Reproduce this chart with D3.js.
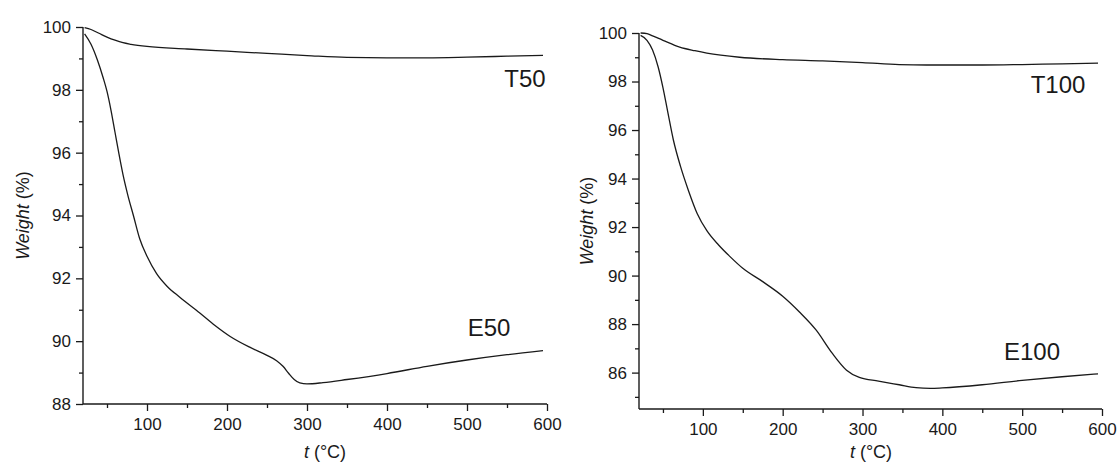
<!DOCTYPE html>
<html>
<head>
<meta charset="utf-8">
<script src="https://cdn.jsdelivr.net/npm/d3@7"></script>
<style>
  html, body { margin: 0; padding: 0; background: #fff; }
  svg { display: block; font-family: "Liberation Sans", Arial, sans-serif; }
</style>
</head>
<body>
<svg id="chart" width="1120" height="465"></svg>
<script>
// Temperature (°C) vs weight (%)
const t50 = [[22, 99.98], [30, 99.92], [40, 99.8], [50, 99.68], [60, 99.58], [70, 99.5], [80, 99.45],
  [100, 99.38], [150, 99.3], [200, 99.23], [250, 99.16], [300, 99.09], [350, 99.03], [400, 99.02],
  [450, 99.02], [500, 99.04], [550, 99.07], [595, 99.1]];

const e50 = [[22, 99.78], [30, 99.45], [38, 98.95], [45, 98.4], [50, 97.95], [55, 97.35], [60, 96.65],
  [65, 95.95], [70, 95.3], [76, 94.65], [83, 94.0], [91, 93.25], [100, 92.7], [112, 92.15],
  [125, 91.75], [141, 91.4], [166, 90.9], [185, 90.5], [204, 90.15], [229, 89.8], [250, 89.55],
  [262, 89.38], [270, 89.2], [277, 88.98], [284, 88.78], [291, 88.67], [300, 88.64], [320, 88.68],
  [350, 88.78], [400, 88.97], [450, 89.2], [500, 89.4], [550, 89.57], [595, 89.7]];

const t100 = [[22, 100], [30, 99.97], [37, 99.88], [50, 99.7], [71, 99.42], [90, 99.27], [105, 99.17],
  [146, 99.0], [200, 98.9], [250, 98.85], [300, 98.78], [346, 98.7], [380, 98.68], [450, 98.68],
  [500, 98.7], [550, 98.73], [595, 98.76]];

const e100 = [[22, 99.9], [30, 99.7], [37, 99.3], [44, 98.6], [50, 97.75], [56, 96.75], [63, 95.6],
  [72, 94.5], [82, 93.5], [93, 92.55], [105, 91.85], [120, 91.25], [135, 90.75], [150, 90.3],
  [175, 89.75], [200, 89.15], [221, 88.5], [242, 87.75], [262, 86.8], [280, 86.1], [296, 85.8],
  [320, 85.65], [346, 85.5], [367, 85.38], [385, 85.35], [400, 85.37], [450, 85.5], [500, 85.68],
  [550, 85.83], [595, 85.95]];

// tick values
const xMajor = [100, 200, 300, 400, 500, 600];
const xMinor = [50, 150, 250, 350, 450, 550];
const yMajorLeft = [88, 90, 92, 94, 96, 98, 100];
const yMinorLeft = [89, 91, 93, 95, 97, 99];
const yMajorRight = [86, 88, 90, 92, 94, 96, 98, 100];
const yMinorRight = [85, 87, 89, 91, 93, 95, 97, 99];

const svg = d3.select('#chart');
const ink = '#1a1a1a';

const panels = [
  { x0: 83, x1: 547, y0: 404, y1: 27, yDomain: [88, 100], yMajor: yMajorLeft, yMinor: yMinorLeft,
    series: [
      { data: t50, label: 'T50', lx: 525, ly: 87 },
      { data: e50, label: 'E50', lx: 489, ly: 336 }
    ],
    xTitleX: 325, yTitleX: 29 },
  { x0: 639, x1: 1102, y0: 409, y1: 33, yDomain: [84.5, 100], yMajor: yMajorRight, yMinor: yMinorRight,
    series: [
      { data: t100, label: 'T100', lx: 1058, ly: 93 },
      { data: e100, label: 'E100', lx: 1032, ly: 360 }
    ],
    xTitleX: 871, yTitleX: 593 }
];

panels.forEach(p => {
  const x = d3.scaleLinear().domain([20, 600]).range([p.x0, p.x1]);
  const y = d3.scaleLinear().domain(p.yDomain).range([p.y0, p.y1]);
  const g = svg.append('g');

  // x axis: major + minor ticks
  const xAxis = g.append('g').attr('transform', `translate(0,${p.y0})`)
    .call(d3.axisBottom(x).tickValues(xMajor).tickSize(7).tickPadding(7).tickFormat(d3.format('d')));
  g.append('g').attr('transform', `translate(0,${p.y0})`)
    .call(d3.axisBottom(x).tickValues(xMinor).tickSize(4).tickFormat(''))
    .select('.domain').remove();

  // y axis
  const yAxis = g.append('g').attr('transform', `translate(${p.x0},0)`)
    .call(d3.axisLeft(y).tickValues(p.yMajor).tickSize(7).tickPadding(5).tickFormat(d3.format('d')));
  g.append('g').attr('transform', `translate(${p.x0},0)`)
    .call(d3.axisLeft(y).tickValues(p.yMinor).tickSize(4).tickFormat(''))
    .select('.domain').remove();

  g.selectAll('.domain').attr('stroke', ink).attr('stroke-width', 1.4);
  g.selectAll('.tick line').attr('stroke', ink).attr('stroke-width', 1.3);
  g.selectAll('.tick text').attr('fill', ink).style('font-size', '17px')
    .style('font-family', '"Liberation Sans", Arial, sans-serif');
  // the domain path draws outer ticks; remove them
  xAxis.select('.domain').attr('d', `M${p.x0},0H${p.x1}`);
  yAxis.select('.domain').attr('d', `M0,${p.y0}V${p.y1}`);

  // curves
  const line = d3.line().x(d => x(d[0])).y(d => y(d[1])).curve(d3.curveMonotoneX);
  p.series.forEach(s => {
    g.append('path').datum(s.data).attr('d', line)
      .attr('fill', 'none').attr('stroke', ink).attr('stroke-width', 1.3);
    g.append('text').attr('x', s.lx).attr('y', s.ly).attr('text-anchor', 'middle')
      .attr('fill', ink).style('font-size', '24px').text(s.label);
  });

  // axis titles
  const xt = g.append('text').attr('x', p.xTitleX).attr('y', 458)
    .attr('text-anchor', 'middle').attr('fill', ink).style('font-size', '18px');
  xt.append('tspan').style('font-style', 'italic').text('t');
  xt.append('tspan').text(' (°C)');

  const yt = g.append('text')
    .attr('transform', `translate(${p.yTitleX},${(p.y0 + p.y1) / 2}) rotate(-90)`)
    .attr('text-anchor', 'middle').attr('fill', ink).style('font-size', '18px');
  yt.append('tspan').style('font-style', 'italic').text('Weight');
  yt.append('tspan').text(' (%)');
});
</script>
</body>
</html>
